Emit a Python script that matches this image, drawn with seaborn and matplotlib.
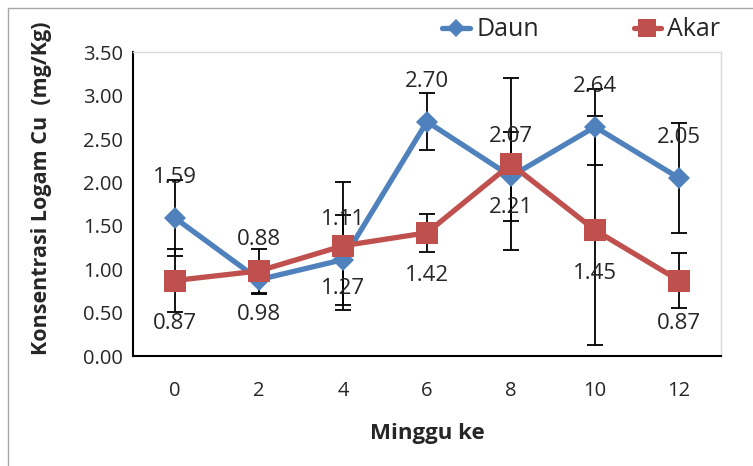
import numpy as np
import pandas as pd
import matplotlib
matplotlib.use('Agg')
import matplotlib.pyplot as plt
import seaborn as sns
from matplotlib.lines import Line2D

# data
minggu = ['0', '2', '4', '6', '8', '10', '12']
daun = [1.59, 0.88, 1.11, 2.70, 2.07, 2.64, 2.05]
akar = [0.87, 0.98, 1.27, 1.42, 2.21, 1.45, 0.87]
daun_err = [0.44, 0.16, 0.52, 0.33, 0.51, 0.44, 0.63]
akar_err = [0.36, 0.25, 0.74, 0.22, 0.99, 1.32, 0.32]

blue = '#4F81BD'
red = '#C0504D'

sns.set_style('white')
plt.rcParams['font.family'] = ['Open Sans', 'DejaVu Sans']

df = pd.DataFrame({
    'pos': list(range(len(minggu))) * 2,
    'nilai': daun + akar,
    'seri': ['Daun'] * len(minggu) + ['Akar'] * len(minggu),
})

fig = plt.figure(figsize=(7.53, 4.66), dpi=100)
ax = fig.add_axes([0.1766, 0.236, 0.9575 - 0.1766, 0.888 - 0.236])

pos = np.arange(len(minggu))
# error bars first so the lines sit on top
ax.errorbar(pos, daun, yerr=daun_err, fmt='none', ecolor='black', elinewidth=1.3, capsize=6, capthick=1.3, zorder=1)
ax.errorbar(pos, akar, yerr=akar_err, fmt='none', ecolor='black', elinewidth=1.3, capsize=6, capthick=1.3, zorder=1)

sns.lineplot(data=df, x='pos', y='nilai', hue='seri', style='seri',
             palette={'Daun': blue, 'Akar': red},
             markers={'Daun': 'D', 'Akar': 's'}, dashes=False,
             linewidth=3.8, markeredgewidth=0, legend=False, ax=ax, zorder=3)
for ln, ms in zip(ax.lines[-2:], [11, 16]):
    ln.set_markersize(ms)

# data labels
for i in range(len(minggu)):
    ax.annotate(f'{daun[i]:.2f}', (pos[i], daun[i]), xytext=(0, 29), textcoords='offset points',
                ha='center', va='center', fontsize=16, color='#262626', zorder=5)
    ax.annotate(f'{akar[i]:.2f}', (pos[i], akar[i]), xytext=(0, -31), textcoords='offset points',
                ha='center', va='center', fontsize=16, color='#262626', zorder=5)

ax.set_xlim(-0.5, 6.5)
ax.set_ylim(0, 3.5)
ax.set_yticks(np.arange(0, 3.51, 0.5))
ax.set_yticklabels([f'{v:.2f}' for v in np.arange(0, 3.51, 0.5)])
ax.set_xticks(np.arange(-0.5, 6.6, 1))
ax.set_xticklabels([])
ax.set_xticks(pos, minor=True)
ax.set_xticklabels(minggu, minor=True)
ax.tick_params(axis='x', which='major', direction='out', length=7, width=1.2, color='black')
ax.tick_params(axis='x', which='minor', length=0, pad=18, labelsize=14.5, labelcolor='#262626')
ax.tick_params(axis='y', direction='out', length=6, width=1.2, color='black', pad=1,
               labelsize=14.5, labelcolor='#262626')

for s in ['left', 'bottom']:
    ax.spines[s].set_color('black')
    ax.spines[s].set_linewidth(1.5)
for s in ['top', 'right']:
    ax.spines[s].set_color('#D9D9D9')
    ax.spines[s].set_linewidth(1)

ax.set_xlabel('Minggu ke', fontsize=16, fontweight='bold', labelpad=16)
ax.set_ylabel('Konsentrasi Logam Cu  (mg/Kg)', fontsize=15.5, fontweight='bold')
ax.yaxis.set_label_coords(-0.138, 0.553)

handles = [Line2D([], [], color=blue, lw=3.8, marker='D', ms=9, mew=0),
           Line2D([], [], color=red, lw=3.8, marker='s', ms=13, mew=0)]
fig.legend(handles, ['Daun', 'Akar'], loc='center', bbox_to_anchor=(0.772, 0.936), ncol=2,
           frameon=False, fontsize=18, handlelength=1.1, handletextpad=0.25, columnspacing=3.8,
           labelcolor='#262626')

# outer chart border (only top and left visible in the crop)
fig.add_artist(Line2D([0.0106, 0.0106], [0, 0.983], color='#A6A6A6', lw=1, transform=fig.transFigure))
fig.add_artist(Line2D([0.0106, 1], [0.983, 0.983], color='#A6A6A6', lw=1, transform=fig.transFigure))

fig.savefig('out.png', dpi=100)
